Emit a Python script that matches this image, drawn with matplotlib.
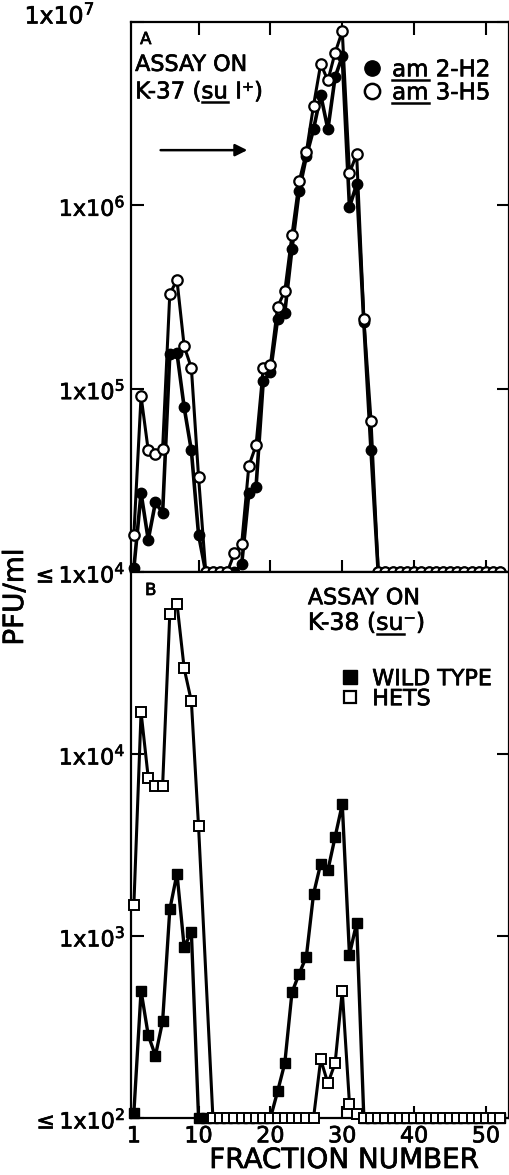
import numpy as np
import matplotlib.pyplot as plt
import matplotlib.patheffects as patheffects
from matplotlib.lines import Line2D
from matplotlib.text import Text
from matplotlib.ticker import NullLocator

plt.rcParams['font.family'] = ['DejaVu Sans']
plt.rcParams['mathtext.fontset'] = 'dejavusans'

# ---------------- data ----------------
fractions = list(range(1, 53))

# panel A, assay on K-37 (su I+)
am2_h2 = [1.05e4, 2.7e4, 1.5e4, 2.4e4, 2.1e4, 1.55e5, 1.56e5, 7.9e4, 4.6e4, 1.6e4,
          1e4, 1e4, 1e4, 1e4, 1e4, 1.1e4, 2.7e4, 2.9e4, 1.1e5, 1.23e5,
          2.4e5, 2.6e5, 5.8e5, 1.2e6, 1.85e6, 2.6e6, 4.0e6, 2.6e6, 5.0e6, 6.5e6,
          9.8e5, 1.3e6, 2.3e5, 4.6e4, 1e4, 1e4, 1e4, 1e4, 1e4, 1e4,
          1e4, 1e4, 1e4, 1e4, 1e4, 1e4, 1e4, 1e4, 1e4, 1e4,
          1e4, 1e4]
am3_h5 = [1.6e4, 9.1e4, 4.6e4, 4.4e4, 4.7e4, 3.3e5, 3.9e5, 1.7e5, 1.3e5, 3.3e4,
          1e4, 1e4, 1e4, 1e4, 1.27e4, 1.42e4, 3.8e4, 4.9e4, 1.3e5, 1.35e5,
          2.8e5, 3.4e5, 6.9e5, 1.35e6, 1.95e6, 3.5e6, 5.9e6, 4.8e6, 6.8e6, 8.9e6,
          1.5e6, 1.9e6, 2.4e5, 6.7e4, 1e4, 1e4, 1e4, 1e4, 1e4, 1e4,
          1e4, 1e4, 1e4, 1e4, 1e4, 1e4, 1e4, 1e4, 1e4, 1e4,
          1e4, 1e4]

# panel B, assay on K-38 (su-)
wild_type = [107, 500, 285, 220, 340, 1400, 2200, 870, 1050, 100,
             100, 100, 100, 100, 100, 100, 100, 100, 100, 100,
             140, 200, 490, 620, 770, 1700, 2500, 2300, 3500, 5300,
             790, 1180, 100, 100, 100, 100, 100, 100, 100, 100,
             100, 100, 100, 100, 100, 100, 100, 100, 100, 100,
             100, 100]
hets_fractions = [1, 2, 3, 4, 5, 6, 7, 8, 9, 10,
                  12, 13, 14, 15, 16, 17, 18, 19, 20, 21,
                  22, 23, 24, 25, 26, 27, 28, 29, 30, 31,
                  32, 33, 34, 35, 36, 37, 38, 39, 40, 41,
                  42, 43, 44, 45, 46, 47, 48, 49, 50, 51,
                  52]
hets = [1480, 17000, 7400, 6700, 6700, 59000, 67000, 29500, 19500, 4000,
        100, 100, 100, 100, 100, 100, 100, 100, 100, 100,
        100, 100, 100, 100, 100, 210, 155, 200, 500, 120,
        105, 100, 100, 100, 100, 100, 100, 100, 100, 100,
        100, 100, 100, 100, 100, 100, 100, 100, 100, 100,
        100]

xticks = [1, 10, 20, 30, 40, 50]
yticks_a = [1e4, 1e5, 1e6, 1e7]
ylabels_a = [r'$\leq$1x10$^{4}$', r'1x10$^{5}$', r'1x10$^{6}$', '']
yticks_b = [1e2, 1e3, 1e4, 1e5]
ylabels_b = [r'$\leq$1x10$^{2}$', r'1x10$^{3}$', r'1x10$^{4}$', '']
legend_a = ['am 2-H2', 'am 3-H5']
legend_b = ['WILD TYPE', 'HETS']

################################################################################
W, H = 510, 1175
fig = plt.figure(figsize=(W / 100, H / 100), dpi=100)
ax_a = fig.add_axes([131 / W, 603 / H, 378 / W, 550 / H])
ax_b = fig.add_axes([131 / W, 57 / H, 378 / W, 546 / H])


def setup(ax, ylim, yticks, ylabels, top=True, labelbottom=False):
    ax.set_yscale('log')
    ax.set_xlim(0.6, 53.2)
    ax.set_ylim(*ylim)
    ax.yaxis.set_minor_locator(NullLocator())
    ax.set_xticks(xticks)
    ax.set_yticks(yticks)
    ax.set_yticklabels(ylabels, fontsize=17)
    ax.tick_params(direction='in', length=9, width=1.5, top=top, right=True,
                   labelbottom=labelbottom, labelsize=16, pad=4)
    ax.xaxis.get_major_ticks()[0].tick1line.set_visible(False)
    ax.xaxis.get_major_ticks()[0].tick2line.set_visible(False)
    for s in ax.spines.values():
        s.set_linewidth(1.6)


setup(ax_a, (1e4, 1e7), yticks_a, ylabels_a)
setup(ax_b, (1e2, 1e5), yticks_b, ylabels_b, top=False, labelbottom=True)
ax_b.tick_params(axis='x', pad=6)

# panel A curves
ax_a.plot(fractions, am2_h2, '-o', color='black', lw=2.6, ms=7.5, mfc='black',
          mec='black', clip_on=False, zorder=3)
ax_a.plot(fractions, am3_h5, '-o', color='black', lw=2.2, ms=7.5, mfc='white',
          mec='black', mew=1.6, clip_on=False, zorder=4)

# panel B curves
ax_b.plot(fractions, wild_type, '-s', color='black', lw=2.4, ms=6.5, mfc='black',
          mec='black', clip_on=False, zorder=3)
ax_b.plot(hets_fractions, hets, '-s', color='black', lw=2.2, ms=6.5, mfc='white',
          mec='black', mew=1.4, clip_on=False, zorder=4)

# legends
h_a = [Line2D([], [], ls='none', marker='o', ms=11, mfc='black', mec='black'),
       Line2D([], [], ls='none', marker='o', ms=11, mfc='white', mec='black', mew=1.8)]
leg_a = ax_a.legend(h_a, legend_a, loc='upper left', bbox_to_anchor=(0.607, 0.934),
                    frameon=False, fontsize=16.5, handlelength=1.0, handletextpad=0.38,
                    labelspacing=0.0, borderpad=0, borderaxespad=0)
h_b = [Line2D([], [], ls='none', marker='s', ms=9.5, mfc='black', mec='black'),
       Line2D([], [], ls='none', marker='s', ms=9, mfc='white', mec='black', mew=1.6)]
ax_b.legend(h_b, legend_b, loc='upper left', bbox_to_anchor=(0.550, 0.822),
            frameon=False, fontsize=16, handlelength=1.0, handletextpad=0.5,
            labelspacing=0.0, borderpad=0, borderaxespad=0)

# panel notes
ax_a.text(0.024, 0.969, 'A', transform=ax_a.transAxes, fontsize=12, va='center')
ax_a.text(0.011, 0.922, 'ASSAY ON', transform=ax_a.transAxes, fontsize=16, va='center')
k37 = ax_a.text(0.011, 0.873, 'K-37 (su I\u207a)', transform=ax_a.transAxes,
                fontsize=16.5, va='center')
ax_a.annotate('', xy=(0.315, 0.767), xytext=(0.071, 0.767), xycoords='axes fraction',
              arrowprops=dict(arrowstyle='-|>', color='black', lw=1.8,
                              mutation_scale=18))

ax_b.text(0.037, 0.967, 'B', transform=ax_b.transAxes, fontsize=12, va='center')
ax_b.text(0.468, 0.952, 'ASSAY ON', transform=ax_b.transAxes, fontsize=16, va='center')
k38 = ax_b.text(0.468, 0.907, 'K-38 (su\u207b)', transform=ax_b.transAxes,
                fontsize=17, va='center')

# outer labels
fig.text(95 / W, 1 - 15 / H, r'1x10$^{7}$', fontsize=17, ha='right', va='center')
fig.text(15 / W, 1 - 597 / H, 'PFU/ml', fontsize=20, rotation=90, ha='center', va='center')
fig.text(344 / W, 1 - 1160 / H, 'FRACTION NUMBER', fontsize=20, ha='center', va='center')

# slightly heavier lettering, like the original
for t in fig.findobj(Text):
    t.set_path_effects([patheffects.withStroke(linewidth=0.5, foreground='black')])

# underline gene names (mathtext has no \underline)
fig.canvas.draw()
renderer = fig.canvas.get_renderer()


def text_width(s, fs):
    t = fig.text(0, 0, s, fontsize=fs)
    w = t.get_window_extent(renderer).width
    t.remove()
    return w


def underline(t, prefix, word):
    fs = t.get_fontsize()
    bb = t.get_window_extent(renderer)
    x0 = bb.x0 + (text_width(prefix, fs) + 1 if prefix else 0)
    x1 = bb.x0 + text_width(prefix + word, fs)
    y = bb.y0 + 1
    fig.add_artist(Line2D([x0 / W, x1 / W], [y / H, y / H], transform=fig.transFigure,
                          color='black', lw=1.8))


underline(k37, 'K-37 (', 'su')
underline(k38, 'K-38 (', 'su')
for t in leg_a.get_texts():
    underline(t, '', 'am')

fig.savefig('out.png', dpi=100)
